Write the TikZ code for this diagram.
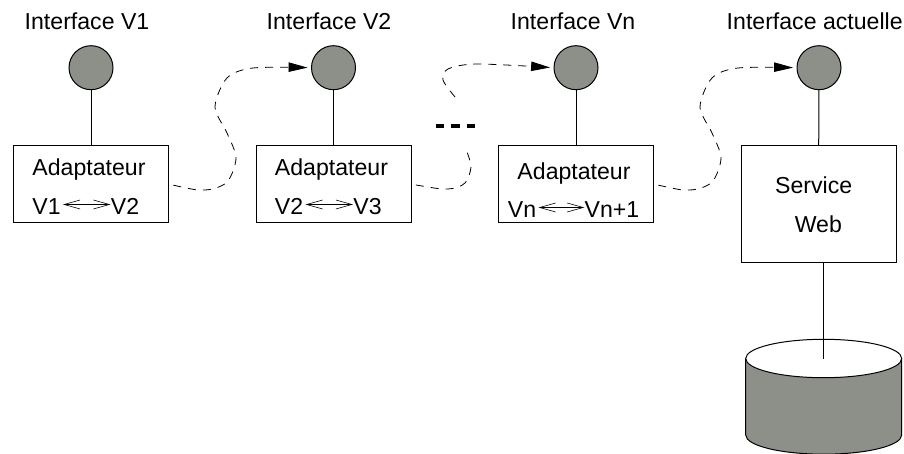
\documentclass[tikz,border=0pt]{standalone}
\usepackage{fontspec}
\setmainfont{Liberation Sans}
\usetikzlibrary{arrows.meta,shapes.geometric}
\definecolor{gris}{RGB}{140,144,136}
\tikzstyle{port}=[circle, draw, fill=gris, line width=0.5pt, minimum width=22pt, inner sep=0pt]
\tikzstyle{boite}=[rectangle, draw, line width=0.5pt, minimum width=77.5pt, inner sep=0pt]
\tikzstyle{texte}=[inner sep=0pt, anchor=base, font=\fontsize{11.55}{13}\selectfont]
\tikzstyle{lien}=[line width=0.5pt]
\tikzstyle{saut}=[line width=0.4pt, dash pattern=on 4pt off 3.5pt]
\tikzstyle{fleche}=[-{Triangle[length=9.5pt,width=4.7pt]}]
\tikzstyle{version}=[line width=0.3pt, shorten <=1pt, {Straight Barb[length=8pt,width=4.5pt]}-{Straight Barb[length=8pt,width=4.5pt]}]
\begin{document}
\begin{tikzpicture}[x=0.5pt, y=-0.5pt]
                \useasboundingbox (0,0) rectangle (904,454);
                \node[texte] (t1) at (87, 30) {Interface V1};
                \node[texte] (t2) at (329, 30) {Interface V2};
                \node[texte] (t3) at (573, 30) {Interface Vn};
                \node[texte] (t4) at (814.7, 30) {Interface actuelle};
                \node[port] (i1) at (91, 67.7) {};
                \node[port] (i2) at (333.5, 67.7) {};
                \node[port] (i3) at (576, 67.7) {};
                \node[port] (i4) at (819, 67.7) {};
                \node[boite, minimum height=38.75pt] (a1) at (91, 184.25) {};
                \node[boite, minimum height=38.75pt] (a2) at (333.5, 184.25) {};
                \node[boite, minimum height=38.75pt] (a3) at (576, 184.25) {};
                \node[boite, minimum height=58.25pt] (w) at (818.5, 203.75) {};
                \node[texte] (a1t) at (89, 176) {Adaptateur};
                \node[texte] (a2t) at (331.5, 176) {Adaptateur};
                \node[texte] (a3t) at (574, 180) {Adaptateur};
                \node[texte] (v1) at (46.5, 215) {V1};
                \node[texte] (v2) at (125, 215) {V2};
                \node[texte] (v3) at (289, 215) {V2};
                \node[texte] (v4) at (367.5, 215) {V3};
                \node[texte] (v5) at (522, 218) {Vn};
                \node[texte] (v6) at (612, 218) {Vn+1};
                \node[texte] (w1) at (813.7, 194) {Service};
                \node[texte] (w2) at (818.3, 233) {Web};
                \fill[gris] (745.7, 358.5) -- (745.7, 435) arc[start angle=180, end angle=0, x radius=78, y radius=19.2] -- (901.7, 358.5) -- cycle;
                \draw[lien] (745.7, 358.5) -- (745.7, 435) arc[start angle=180, end angle=0, x radius=78, y radius=19.2] -- (901.7, 358.5);
                \node[ellipse, draw, fill=white, line width=0.5pt, minimum width=78pt, minimum height=19.2pt, inner sep=0pt] (db) at (823.7, 358.5) {};
                \coordinate (p1) at (467, 152);
                \coordinate (p2) at (455, 97);
                \coordinate (d1) at (435.7, 126);
                \coordinate (d2) at (475, 126);
                \draw[lien]  (i1)--(a1);
                \draw[lien]  (i2)--(a2);
                \draw[lien]  (i3)--(a3);
                \draw[lien]  (i4)--(w);
                \draw[lien]  (w.south -| db)--(db.center);
                \draw[version]  (v1.east |- 0,204.5)--(v2.west |- 0,204.5);
                \draw[version]  (v3.east |- 0,204.5)--(v4.west |- 0,204.5);
                \draw[version]  (v5.east |- 0,207.5)--(v6.west |- 0,207.5);
                \draw[saut, fleche, shorten <=2.2pt, shorten >=1.7pt] plot[smooth] coordinates {(a1.east) (205,190) (227,182) (236,158) (227,133) (215,107) (227,78) (253,68) (i2.west)};
                \draw[saut, shorten <=2.2pt] plot[smooth] coordinates {(a2.east) (448,189) (465,183) (471,167) (p1)};
                \draw[saut, fleche, shorten >=1.7pt] plot[smooth] coordinates {(p2) (443,80) (448,69) (477,64) (i3.west)};
                \draw[saut, fleche, shorten <=2.2pt, shorten >=1.7pt] plot[smooth] coordinates {(a3.east) (690,190) (712,182) (721,158) (712,133) (700,107) (712,78) (738,68) (i4.west)};
                \draw[line width=2pt, dash pattern=on 4.25pt off 3.6pt]  (d1)--(d2);
            \end{tikzpicture}
\end{document}
